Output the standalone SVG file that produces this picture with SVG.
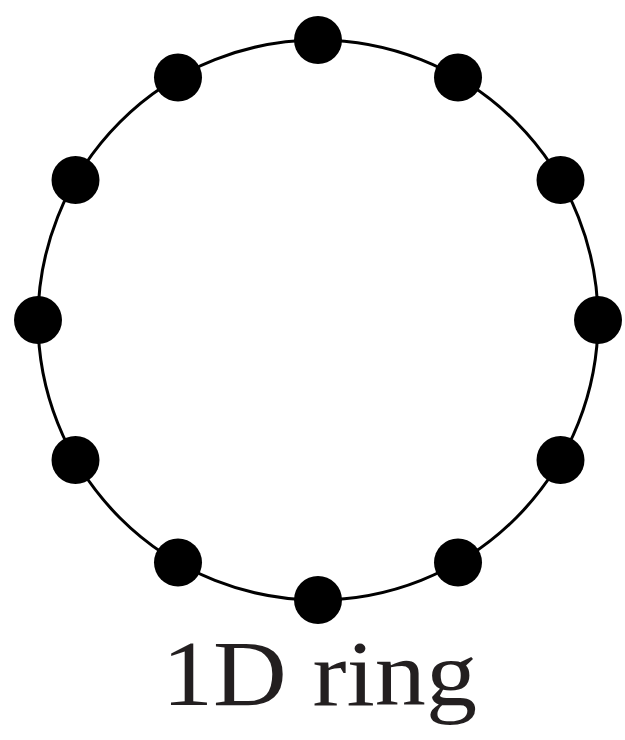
<svg xmlns="http://www.w3.org/2000/svg" width="625" height="740" viewBox="0 0 625 740">
<style>
.ring{fill:none;stroke:#000;stroke-width:3}
.node{fill:#000}
.lbl{font-family:"Liberation Serif","DejaVu Serif",serif;font-size:93px;fill:#231f20}
</style>
<rect width="625" height="740" fill="#fff"/>
<g id="connectors">
<circle class="ring" cx="318" cy="320" r="280"/>
</g>
<g id="n0"><circle class="node" cx="318" cy="40" r="24"/></g>
<g id="n1"><circle class="node" cx="458" cy="77.5" r="24"/></g>
<g id="n2"><circle class="node" cx="560.5" cy="180" r="24"/></g>
<g id="n3"><circle class="node" cx="598" cy="320" r="24"/></g>
<g id="n4"><circle class="node" cx="560.5" cy="460" r="24"/></g>
<g id="n5"><circle class="node" cx="458" cy="562.5" r="24"/></g>
<g id="n6"><circle class="node" cx="318" cy="600" r="24"/></g>
<g id="n7"><circle class="node" cx="178" cy="562.5" r="24"/></g>
<g id="n8"><circle class="node" cx="75.5" cy="460" r="24"/></g>
<g id="n9"><circle class="node" cx="38" cy="320" r="24"/></g>
<g id="n10"><circle class="node" cx="75.5" cy="180" r="24"/></g>
<g id="n11"><circle class="node" cx="178" cy="77.5" r="24"/></g>
<text class="lbl" x="162" y="705" textLength="315" lengthAdjust="spacingAndGlyphs">1D ring</text>
</svg>
